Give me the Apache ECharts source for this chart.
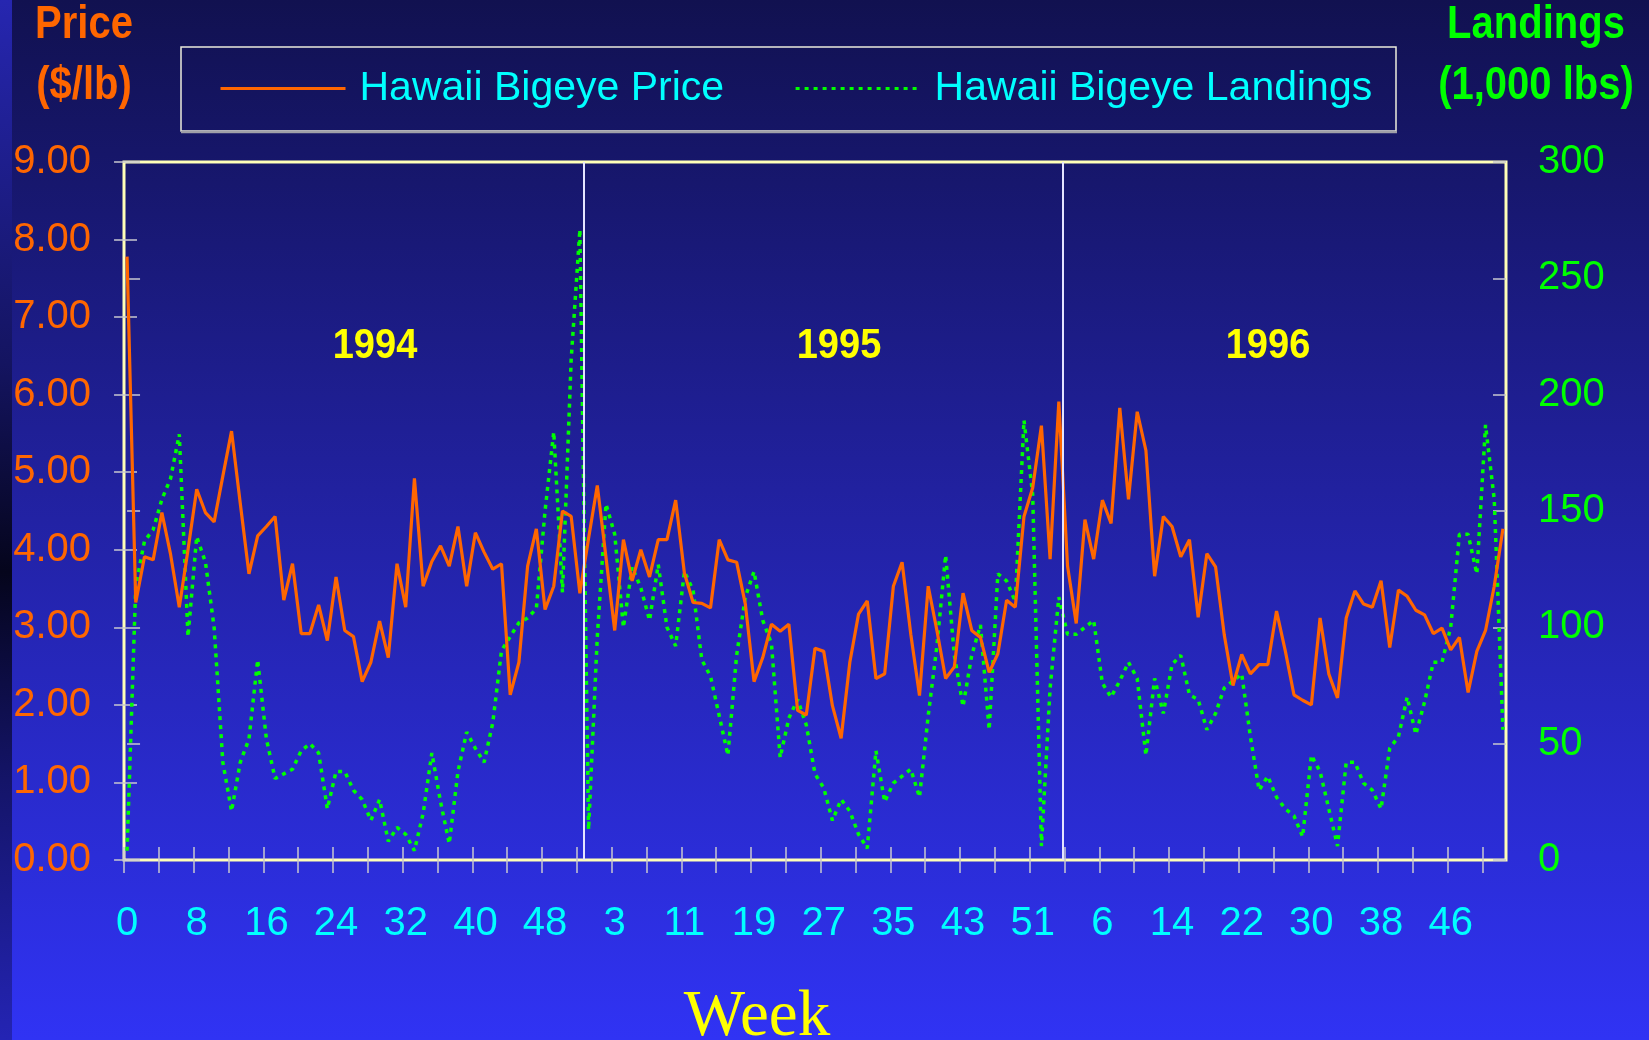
<!DOCTYPE html>
<html><head><meta charset="utf-8">
<script src="https://cdn.jsdelivr.net/npm/echarts@6/dist/echarts.min.js"></script>
<style>html,body{margin:0;padding:0;background:#111150;}#c{width:1649px;height:1040px;}</style>
</head><body><div id="c"></div>
<script>
// ---- data ----
const xTickLabels = ['0','8','16','24','32','40','48','3','11','19','27','35','43','51','6','14','22','30','38','46'];
const yearNames = ['1994','1995','1996'];
const yearBreaks = [52.4, 107.5];
const price = [
 7.78,3.32,3.91,3.87,4.48,3.94,3.26,4.00,4.78,4.48,4.36,4.95,5.53,4.60,3.69,4.18,4.30,4.43,3.35,3.82,
 2.92,2.92,3.29,2.83,3.65,2.96,2.88,2.30,2.55,3.08,2.61,3.82,3.26,4.92,3.53,3.85,4.05,3.79,4.30,3.53,
 4.22,3.97,3.75,3.82,2.13,2.55,3.79,4.27,3.23,3.53,4.50,4.43,3.44,4.15,4.83,3.90,2.96,4.13,3.60,4.00,
 3.65,4.13,4.13,4.64,3.70,3.32,3.31,3.25,4.13,3.87,3.84,3.30,2.30,2.61,3.04,2.95,3.04,1.93,1.87,2.73,
 2.69,1.99,1.57,2.55,3.17,3.34,2.34,2.40,3.53,3.84,2.91,2.12,3.53,2.96,2.34,2.49,3.44,2.96,2.87,2.42,
 2.66,3.35,3.26,4.43,4.80,5.60,3.88,5.91,3.79,3.05,4.39,3.88,4.64,4.34,5.83,4.65,5.78,5.28,3.66,4.43,
 4.30,3.91,4.13,3.13,3.95,3.78,2.90,2.25,2.65,2.40,2.52,2.52,3.21,2.70,2.13,2.06,2.00,3.12,2.40,2.09,
 3.12,3.47,3.30,3.26,3.60,2.74,3.48,3.40,3.22,3.16,2.92,2.99,2.71,2.87,2.16,2.69,2.96,3.53,4.27
];
const landings = [
 4,118,137,142,155,164,183,96,139,128,100,42,21,42,52,86,52,35,37,39,
 47,50,46,22,38,38,30,26,17,26,8,14,11,4,20,46,25,7,38,55,
 48,42,59,90,96,102,104,108,150,184,115,215,271,13,96,153,140,100,126,117,
 103,127,100,92,124,116,86,79,62,45,88,113,124,103,93,44,61,69,58,37,
 31,17,26,21,11,5,47,25,33,36,39,27,62,92,131,88,66,88,101,56,
 123,120,111,189,157,6,74,113,97,97,100,103,76,70,77,85,78,45,78,63,
 84,88,71,69,56,63,74,77,80,53,30,36,27,22,19,10,45,38,22,6,
 42,42,33,30,22,48,53,70,54,68,85,85,100,140,140,123,187,155,56
];

// ---- chart ----
const FONT = 'Liberation Sans, Arial, sans-serif';
const labelPos = xTickLabels.map((_, k) => k * 8);
const tickPos = [];
for (let k = 0; k < 40; k++) tickPos.push(k * 4 - 0.35);
const tickStyle = { color: '#c8c8d0', width: 1.5 };

function txt(text, x, y, fill, font, sy) {
  return { type: 'text', z: 10, x: x, y: y, scaleY: sy || 1,
    style: { text: text, x: 0, y: 0, align: 'center', verticalAlign: 'middle', fill: fill, font: font } };
}

const chart = echarts.init(document.getElementById('c'), null, { renderer: 'canvas' });
chart.setOption({
  animation: false,
  backgroundColor: { type: 'linear', x: 0, y: 0, x2: 0, y2: 1,
    colorStops: [{ offset: 0, color: '#111150' }, { offset: 0.5, color: '#2222a4' }, { offset: 1, color: '#3033f4' }] },
  grid: { left: 124, right: 143, top: 162, bottom: 180, show: true, borderColor: '#ffffb8', borderWidth: 3, backgroundColor: 'transparent' },
  legend: {
    data: ['Hawaii Bigeye Price', 'Hawaii Bigeye Landings'],
    left: 219, top: 68, padding: 0, itemWidth: 125, itemHeight: 14, itemGap: 70,
    selectedMode: false,
    itemStyle: { opacity: 0 },
    lineStyle: { width: 3 },
    textStyle: { color: '#00ffff', fontSize: 41, fontFamily: FONT, padding: [0, 0, 0, 9] }
  },
  xAxis: [
    { type: 'value', min: -0.35, max: 158.35, position: 'bottom',
      axisLine: { show: false }, splitLine: { show: false },
      axisTick: { show: true, inside: false, length: 13, customValues: tickPos, lineStyle: tickStyle },
      axisLabel: { show: true, customValues: labelPos, margin: 44, color: '#00ffff', fontSize: 40, fontFamily: FONT,
        formatter: v => xTickLabels[Math.round(v / 8)] } },
    { type: 'value', min: -0.35, max: 158.35, position: 'bottom',
      axisLine: { show: false }, splitLine: { show: false }, axisLabel: { show: false },
      axisTick: { show: true, inside: true, length: 13, customValues: tickPos, lineStyle: tickStyle } }
  ],
  yAxis: [
    { type: 'value', min: 0, max: 9, interval: 1, position: 'left',
      axisLine: { show: false }, splitLine: { show: false },
      axisTick: { show: true, length: 13, lineStyle: tickStyle },
      axisLabel: { margin: 33, color: '#ff6600', fontSize: 40, fontFamily: FONT, formatter: v => v.toFixed(2) } },
    { type: 'value', min: 0, max: 300, interval: 50, position: 'right',
      axisLine: { show: false }, splitLine: { show: false },
      axisTick: { show: true, length: 13, lineStyle: tickStyle },
      axisLabel: { margin: 32, color: '#00ff00', fontSize: 40, fontFamily: FONT } },
    { type: 'value', min: 0, max: 9, interval: 1, position: 'left',
      axisLine: { show: false }, splitLine: { show: false }, axisLabel: { show: false },
      axisTick: { show: true, inside: true, length: 13, lineStyle: tickStyle } },
    { type: 'value', min: 0, max: 300, interval: 50, position: 'right',
      axisLine: { show: false }, splitLine: { show: false }, axisLabel: { show: false },
      axisTick: { show: true, inside: true, length: 13, lineStyle: tickStyle } }
  ],
  series: [
    { name: 'Hawaii Bigeye Landings', type: 'line', xAxisIndex: 0, yAxisIndex: 1,
      data: landings.map((v, i) => [i, v]), symbol: 'none', smooth: false,
      lineStyle: { color: '#00ff00', width: 3.5, type: [4, 5] }, itemStyle: { color: '#00ff00' }, z: 3,
      markLine: { silent: true, symbol: ['none', 'none'], label: { show: false },
        lineStyle: { color: '#e4e4ff', width: 2, type: 'solid' },
        data: yearBreaks.map(b => ({ xAxis: b })) } },
    { name: 'Hawaii Bigeye Price', type: 'line', xAxisIndex: 0, yAxisIndex: 0,
      data: price.map((v, i) => [i, v]), symbol: 'none', smooth: false,
      lineStyle: { color: '#ff6600', width: 3.2 }, itemStyle: { color: '#ff6600' }, z: 4 }
  ],
  graphic: [
    { type: 'rect', left: 0, top: 0, z: 0, shape: { width: 12, height: 1040 },
      style: { fill: { type: 'linear', x: 0, y: 0, x2: 0, y2: 1,
        colorStops: [{ offset: 0, color: '#2626b0' }, { offset: 0.35, color: '#141460' }, { offset: 0.55, color: '#05051c' }, { offset: 0.75, color: '#141468' }, { offset: 1, color: '#2424b4' }] } } },
    { type: 'rect', z: 10, shape: { x: 181, y: 47, width: 1215, height: 84 },
      style: { fill: 'transparent', stroke: '#ececdc', lineWidth: 1.5 } },
    { type: 'line', z: 10, shape: { x1: 181, y1: 132, x2: 1397, y2: 132 },
      style: { stroke: '#a0a0a8', lineWidth: 2.5 } },
    txt('Price', 84, 25, '#ff6600', 'bold 40px ' + FONT, 1.15),
    txt('($/lb)', 84, 86, '#ff6600', 'bold 40px ' + FONT, 1.15),
    txt('Landings', 1536, 25, '#00ff00', 'bold 40px ' + FONT, 1.15),
    txt('(1,000 lbs)', 1536, 86, '#00ff00', 'bold 40px ' + FONT, 1.15),
    txt(yearNames[0], 375, 346, '#ffff00', 'bold 38px ' + FONT, 1.13),
    txt(yearNames[1], 839, 346, '#ffff00', 'bold 38px ' + FONT, 1.13),
    txt(yearNames[2], 1268, 346, '#ffff00', 'bold 38px ' + FONT, 1.13),
    txt('Week', 757, 1018, '#ffff00', '65px Liberation Serif, Times New Roman, serif', 1)
  ]
});
</script>
</body></html>
